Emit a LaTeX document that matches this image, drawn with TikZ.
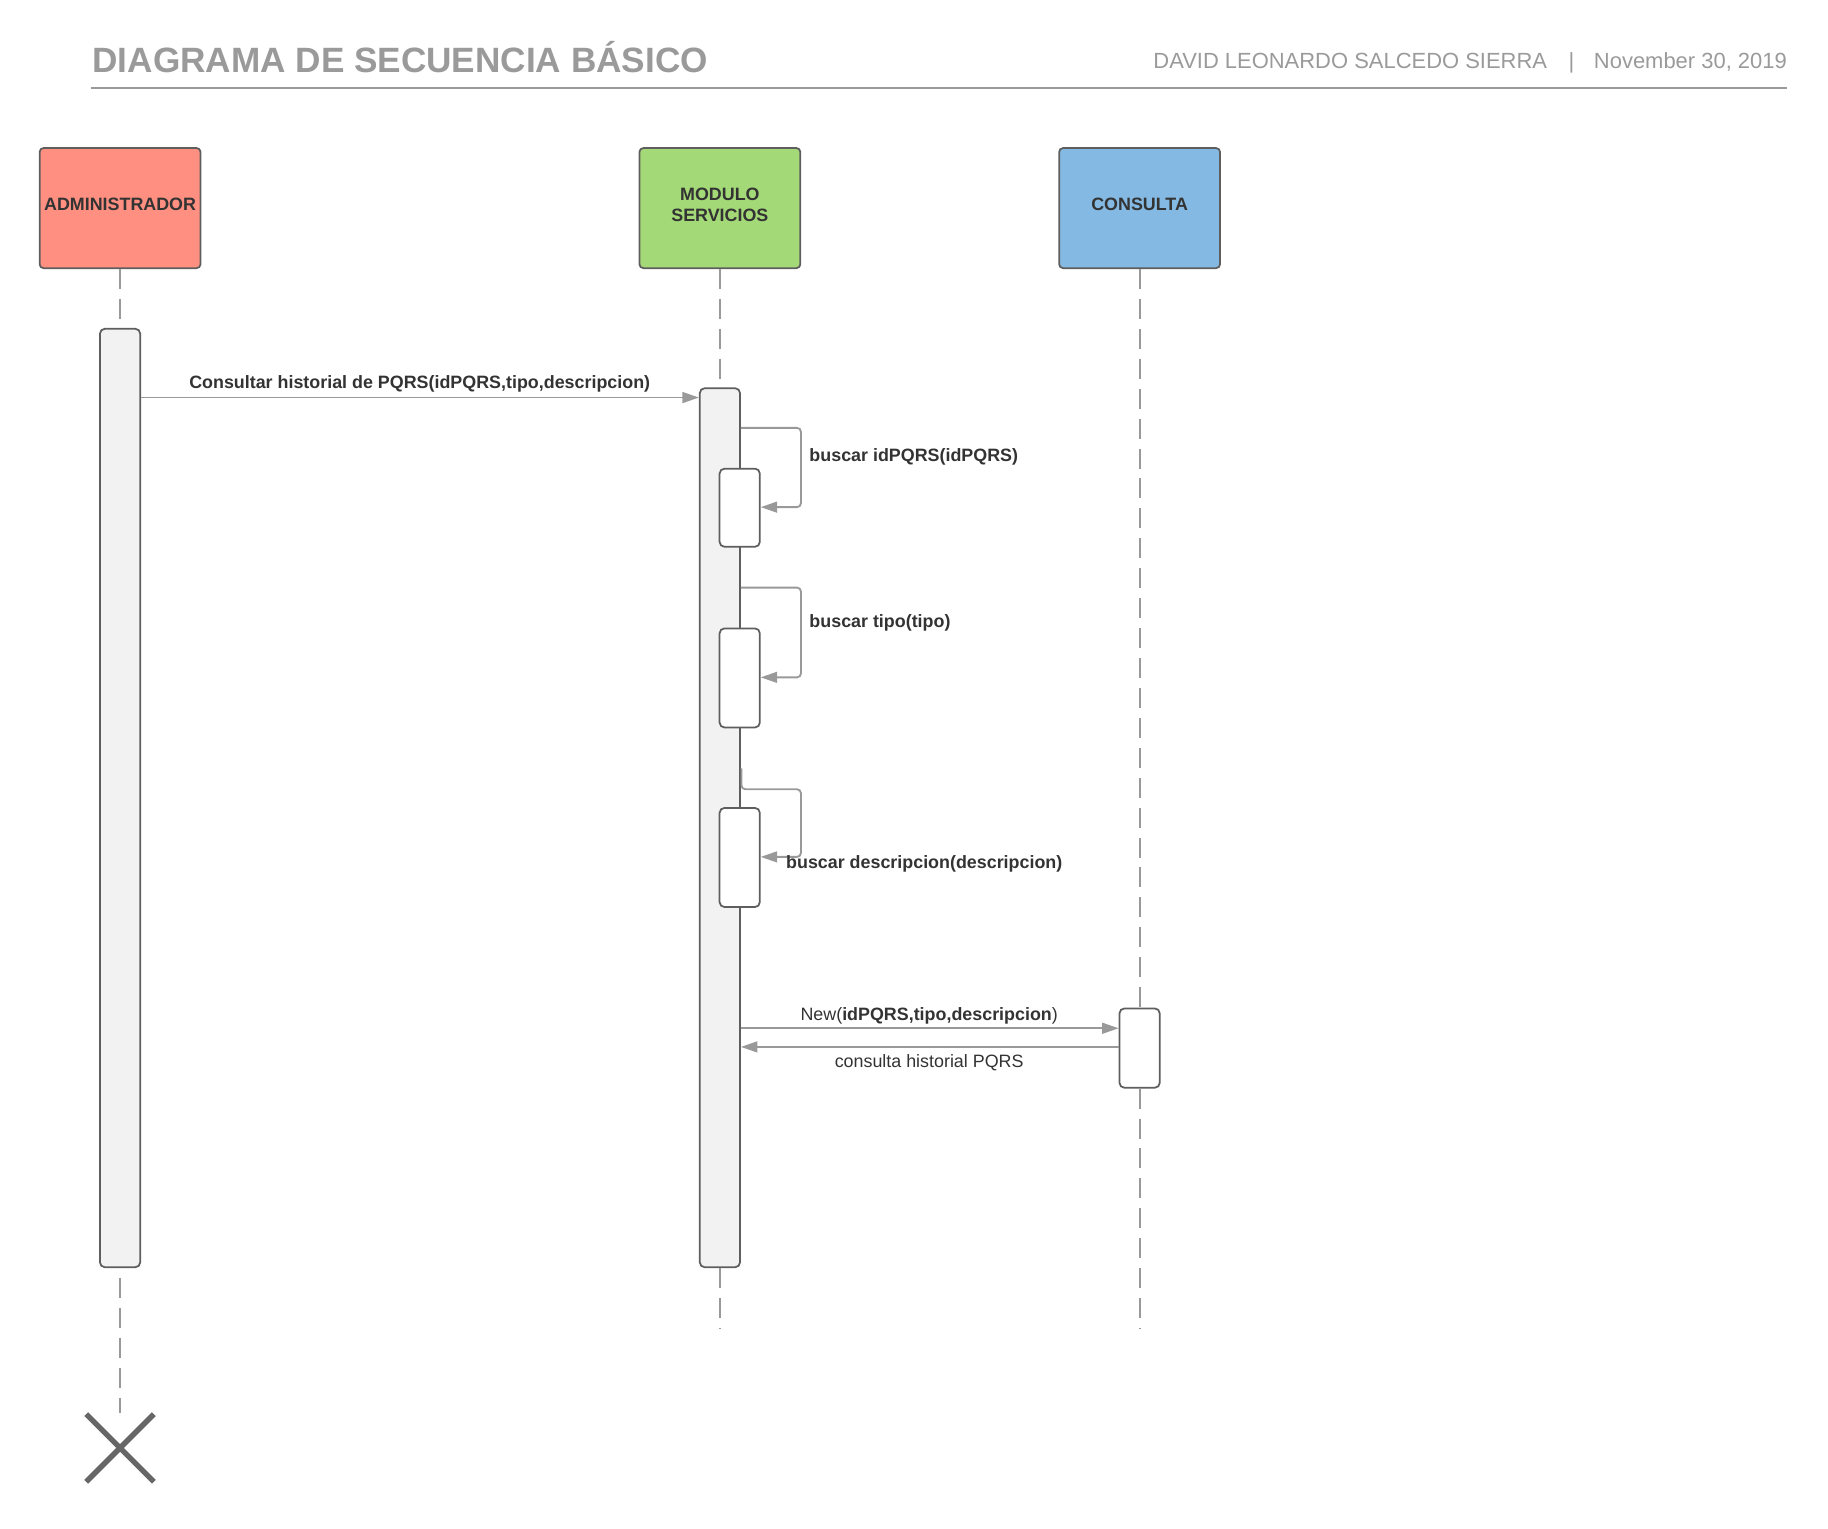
\documentclass[tikz,border=0pt]{standalone}
\usepackage{fontspec}
\setmainfont{Liberation Sans}
\usetikzlibrary{arrows.meta}
\definecolor{hdr}{HTML}{9A9A9A}
\definecolor{edgec}{HTML}{5E5E5E}
\definecolor{msgc}{HTML}{999999}
\definecolor{admc}{HTML}{FF8F80}
\definecolor{modc}{HTML}{A3D977}
\definecolor{conc}{HTML}{83B9E3}
\definecolor{actc}{HTML}{F2F2F2}
\definecolor{txtc}{HTML}{333333}
\definecolor{xc}{HTML}{666666}
\begin{document}
\begin{tikzpicture}[x=0.6pt,y=-0.6pt,
  actor/.style={draw=edgec, line width=0.9pt, rounded corners=2pt,
    minimum width=82.8pt, minimum height=61.8pt, inner sep=0pt, text depth=3.6pt,
    font=\fontsize{9.2}{11}\selectfont\bfseries, text=txtc, align=center},
  actbox/.style={draw=edgec, line width=0.9pt, rounded corners=2.5pt,
    fill=actc, inner sep=0pt, minimum width=20.7pt},
  subact/.style={draw=edgec, line width=0.9pt, rounded corners=2.5pt,
    fill=white, inner sep=0pt, minimum width=20.7pt},
  lifeline/.style={draw=msgc, line width=1pt, dash pattern=on 10.3pt off 5.1pt},
  msg/.style={draw=msgc, line width=0.95pt, -{Triangle[length=8.5pt,width=5.6pt]}},
  selfmsg/.style={msg, rounded corners=2pt},
  lbl/.style={font=\fontsize{9.2}{11}\selectfont\bfseries, text=txtc, inner sep=0pt},
  lblr/.style={font=\fontsize{9.2}{11}\selectfont, text=txtc, inner sep=0pt},
  hdrtxt/.style={font=\fontsize{11.3}{13}\selectfont, text=hdr, inner sep=0pt}
]
\useasboundingbox (0,0) rectangle (1568,1311);

% header
\node[anchor=base west, inner sep=0pt, text=hdr, font=\fontsize{18.1}{20}\selectfont\bfseries] (title) at (79,62) {DIAGRAMA DE SECUENCIA BÁSICO};
\node[hdrtxt, anchor=base west] (author) at (989,59) {DAVID LEONARDO SALCEDO SIERRA};
\node[hdrtxt, anchor=base] (sep) at (1348,59) {|};
\node[hdrtxt, anchor=base east] (date) at (1533,59) {November 30, 2019};
\coordinate (ruleL) at (78,75.5);
\coordinate (ruleR) at (1533,75.5);
\draw[hdr, line width=1pt] (ruleL) -- (ruleR);

% actors
\node[actor, fill=admc] (adm) at (103,178.5) {ADMINISTRADOR};
\node[actor, fill=modc] (mod) at (617.5,178.5) {MODULO\\SERVICIOS};
\node[actor, fill=conc] (con) at (977.5,178.5) {CONSULTA};

% activations
\node[actbox, minimum height=483pt] (aa) at (103,684.5) {};
\node[actbox, minimum height=452.4pt] (ma) at (617.5,710) {};
\node[subact, minimum height=40.2pt] (n1) at (634.5,435.5) {};
\node[subact, minimum height=51pt] (n2) at (634.5,581.5) {};
\node[subact, minimum height=51pt] (n3) at (634.5,735.5) {};
\node[subact, minimum height=40.8pt] (ca) at (977.5,899) {};

% lifeline ends
\coordinate (admEnd) at (103,1212);
\coordinate (modEnd) at (617.5,1140);
\coordinate (conEnd) at (977.5,1140);

% lifelines
\draw[lifeline] (adm.south) -- (aa.north);
\draw[lifeline] ([yshift=-5pt]aa.south) -- (admEnd);
\draw[lifeline] (mod.south) -- (ma.north);
\draw[lifeline] (ma.south) -- (modEnd);
\draw[lifeline] (con.south) -- (ca.north);
\draw[lifeline] (ca.south) -- (conEnd);

% destroy mark
\coordinate (x1) at (74,1213);
\coordinate (x2) at (132,1271);
\coordinate (x3) at (132,1213);
\coordinate (x4) at (74,1271);
\draw[xc, line width=2.8pt] (x1) -- (x2) (x3) -- (x4);

% message 1
\coordinate (m1) at (0,341);
\draw[msg] (aa.east |- m1) -- (ma.west |- m1);
\node[lbl, anchor=base] (l1) at (360,333) {Consultar historial de PQRS(idPQRS,tipo,descripcion)};

% self call 1
\coordinate (s1a) at (687,367);
\coordinate (s1b) at (687,435);
\draw[selfmsg] (ma.east |- s1a) -- (s1a) -- (s1b) -- (n1.east |- s1b);
\node[lbl, anchor=base west] (l2) at (694,396) {buscar idPQRS(idPQRS)};

% self call 2
\coordinate (s2a) at (687,504);
\coordinate (s2b) at (687,581);
\draw[selfmsg] (ma.east |- s2a) -- (s2a) -- (s2b) -- (n2.east |- s2b);
\node[lbl, anchor=base west] (l3) at (694,538) {buscar tipo(tipo)};

% self call 3
\coordinate (s3o) at (636,659);
\coordinate (s3p) at (636,677);
\coordinate (s3a) at (687,677);
\coordinate (s3b) at (687,735);
\draw[selfmsg] (s3o) -- (s3p) -- (s3a) -- (s3b) -- (n3.east |- s3b);
\node[lbl, anchor=base west] (l4) at (674,745) {buscar descripcion(descripcion)};

% New
\coordinate (m5) at (0,882);
\draw[msg] (ma.east |- m5) -- (ca.west |- m5);
\node[lblr, anchor=base] (l5) at (797,875) {New(\textbf{idPQRS,tipo,descripcion})};

% return
\coordinate (m6) at (0,898);
\draw[msg] (ca.west |- m6) -- (ma.east |- m6);
\node[lblr, anchor=base] (l6) at (797,916) {consulta historial PQRS};
\end{tikzpicture}
\end{document}
